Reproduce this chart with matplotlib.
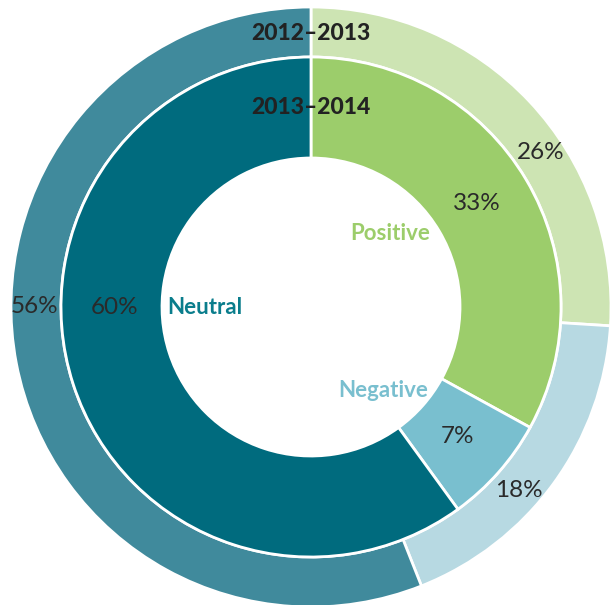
import numpy as np
import matplotlib.pyplot as plt

# data
categories = ['Positive', 'Negative', 'Neutral']
share_2012 = [26, 18, 56]   # outer ring, 2012-2013
share_2013 = [33, 7, 60]    # inner ring, 2013-2014
years = ['2012\u20132013', '2013\u20132014']

outer_colors = ['#cde4b3', '#b7d9e2', '#408a9c']
inner_colors = ['#9ccd6b', '#79bfcf', '#006b7e']
label_colors = ['#9ccd6b', '#79bfcf', '#0a7d8c']

# where the percentage labels sit (degrees) and where category names sit
pct_angles = [34, -41.5, 180]
cat_pos = [(43, 108), (-49, 110), (180, 106)]

W, H = 611, 605
fig = plt.figure(figsize=(W / 100, H / 100), dpi=100)
ax = fig.add_axes([0, 0, 1, 1])

cx, cy = 311, H - 307
R_out, R_mid, R_in = 300, 250, 149

ax.pie(share_2012, radius=R_out, center=(cx, cy), colors=outer_colors,
       startangle=90, counterclock=False, frame=True,
       wedgeprops=dict(width=R_out - R_mid, edgecolor='white', linewidth=2))
ax.pie(share_2013, radius=R_mid, center=(cx, cy), colors=inner_colors,
       startangle=90, counterclock=False, frame=True,
       wedgeprops=dict(width=R_mid - R_in, edgecolor='white', linewidth=2))
ax.set_xlim(0, W)
ax.set_ylim(0, H)
ax.set_aspect('equal')
ax.axis('off')


def polar(ang, r):
    a = np.deg2rad(ang)
    return cx + r * np.cos(a), cy + r * np.sin(a)


for ang, v_out, v_in in zip(pct_angles, share_2012, share_2013):
    x, y = polar(ang, 277)
    ax.text(x, y, f'{v_out}%', ha='center', va='center', fontsize=17.5,
            family='Lato', color='#2a2a2a')
    x, y = polar(ang - (2 if ang == 34 else 0), 196)
    ax.text(x, y, f'{v_in}%', ha='center', va='center', fontsize=17.5,
            family='Lato', color='#2a2a2a')

for name, (ang, r), col in zip(categories, cat_pos, label_colors):
    x, y = polar(ang, r)
    ax.text(x, y, name, ha='center', va='center', fontsize=16,
            family='Lato', fontweight='bold', color=col)

ax.text(cx, H - 33, years[0], ha='center', va='center', fontsize=16.5,
        family='Lato', fontweight='black', color='#222222')
ax.text(cx, H - 107, years[1], ha='center', va='center', fontsize=16.5,
        family='Lato', fontweight='black', color='#222222')

fig.savefig('out.png', dpi=100, facecolor='white')
